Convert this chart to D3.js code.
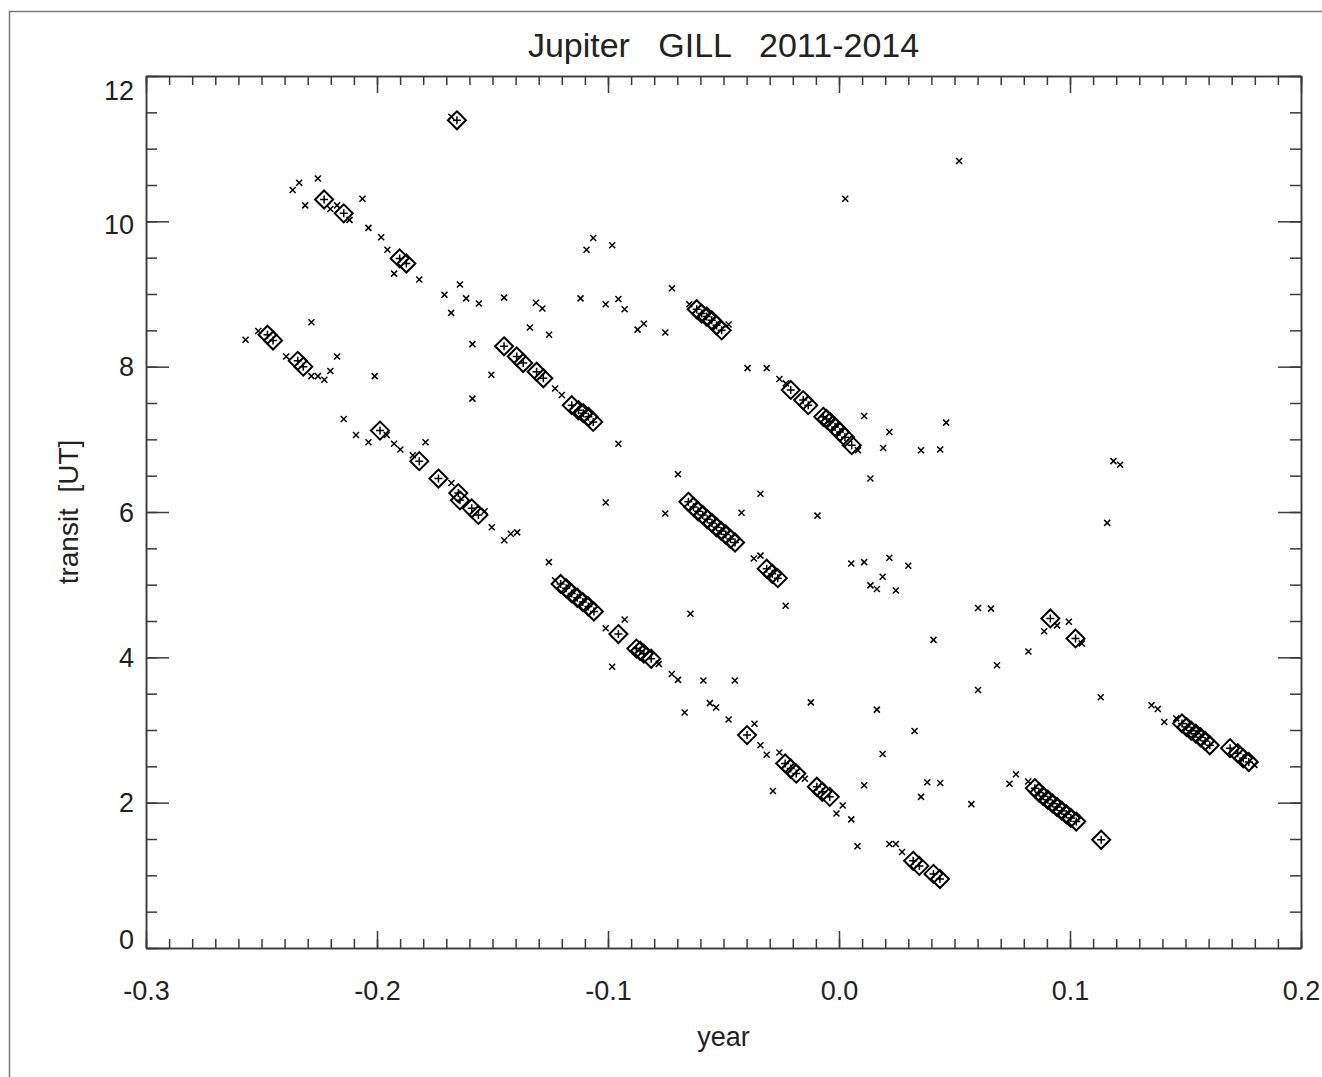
<!DOCTYPE html>
<html><head><meta charset="utf-8">
<script src="https://cdn.jsdelivr.net/npm/d3@7"></script>
<style>body{margin:0;background:#fff} svg{display:block}</style>
</head><body>
<script>
// ---- data (year offset, transit UT) ----
const crossPoints = [
 [-0.1678,11.44],
 [-0.2365,10.43],[-0.2337,10.53],[-0.2256,10.59],[-0.2311,10.22],[-0.2202,10.17],[-0.2173,10.22],[-0.2119,10.02],[-0.2063,10.31],
 [-0.2037,9.91],[-0.1982,9.78],[-0.1955,9.61],[-0.1926,9.28],[-0.1817,9.20],[-0.1708,8.99],[-0.1641,9.13],[-0.1614,8.94],[-0.1679,8.74],
 [-0.1559,8.87],[-0.1450,8.95],[-0.1312,8.88],[-0.1284,8.80],[-0.1338,8.54],[-0.1255,8.44],[-0.1119,8.94],[-0.1093,9.61],[-0.1064,9.77],
 [-0.0982,9.67],[-0.1010,8.86],[-0.0955,8.93],[-0.0928,8.79],[-0.0723,9.08],[-0.0872,8.51],[-0.0845,8.59],[-0.0752,8.47],[-0.0648,8.86],[-0.0478,8.58],
 [-0.2569,8.37],[-0.2514,8.49],[-0.2284,8.61],[-0.2393,8.14],[-0.2284,7.87],[-0.2256,7.87],[-0.2228,7.82],[-0.2202,7.94],[-0.2173,8.14],
 [-0.2010,7.87],[-0.2144,7.28],[-0.2091,7.06],[-0.2037,6.96],[-0.1958,7.06],[-0.1926,6.94],[-0.1899,6.86],[-0.1845,6.78],[-0.1790,6.96],
 [-0.1678,6.40],[-0.1534,6.01],[-0.1587,8.31],[-0.1505,7.89],[-0.1587,7.56],[-0.1229,7.70],[-0.1200,7.61],[-0.0955,6.94],[-0.0697,6.52],
 [-0.1010,6.13],[-0.0752,5.98],[-0.0396,7.98],[-0.0313,7.98],[-0.0258,7.83],[-0.0230,7.77],[0.0082,6.85],[0.0109,7.32],[0.0218,7.10],
 [0.0191,6.88],[0.0355,6.85],[0.0438,6.86],[0.0464,7.23],[0.0136,6.46],[0.1188,6.70],[0.1217,6.65],[-0.0340,6.25],[-0.0422,5.99],
 [-0.0093,5.95],[0.0520,10.83],[0.0027,10.31],
 [-0.1503,5.79],[-0.1449,5.61],[-0.1421,5.70],[-0.1393,5.72],[-0.1256,5.31],[-0.1229,5.06],[-0.1010,4.40],[-0.0928,4.52],[-0.0982,3.87],
 [-0.0780,3.91],[-0.0724,3.77],[-0.0697,3.69],[-0.0587,3.68],[-0.0559,3.37],[-0.0532,3.31],[-0.0668,3.24],[-0.0643,4.60],
 [-0.0369,5.36],[-0.0340,5.40],[-0.0231,4.71],[0.0053,5.29],[0.0109,5.31],[0.0218,5.37],[0.0300,5.26],[0.0189,5.11],[0.0136,4.99],
 [0.0164,4.94],[0.0246,4.92],[0.0602,4.68],[0.0658,4.67],[0.0409,4.24],[0.0944,4.44],[0.0888,4.36],[0.0995,4.49],[0.1051,4.19],
 [0.0820,4.08],[0.0684,3.89],[0.0602,3.55],[0.1133,3.45],[0.1161,5.85],[0.1353,3.34],[0.1380,3.29],[0.1408,3.11],[0.1460,3.16],[0.1798,2.52],
 [-0.0451,3.68],[-0.0122,3.38],[0.0164,3.28],[0.0327,2.985],[0.0189,2.67],[-0.0478,3.145],[-0.0366,3.085],[-0.0340,2.79],[-0.0313,2.66],
 [-0.0258,2.69],[-0.0148,2.33],[-0.0286,2.16],[0.0016,1.96],[-0.0011,1.85],[0.0053,1.77],[0.0109,2.24],[0.0382,2.28],[0.0438,2.27],
 [0.0355,2.08],[0.0573,1.98],[0.0738,2.26],[0.0766,2.39],[0.0819,2.29],[0.0080,1.40],[0.0218,1.43],[0.0246,1.43],[0.0273,1.32]
];
const diamondPoints = [
 [-0.1654,11.39],
 [-0.2229,10.30],[-0.2144,10.11],[-0.1902,9.49],[-0.1873,9.42],
 [-0.0616,8.79],[-0.0595,8.73],[-0.0573,8.69],[-0.0551,8.64],[-0.0530,8.57],[-0.0508,8.50],
 [-0.2474,8.44],[-0.2450,8.36],[-0.2343,8.08],[-0.2319,8.00],
 [-0.1450,8.28],[-0.1395,8.14],[-0.1367,8.05],[-0.1309,7.93],[-0.1280,7.84],
 [-0.1157,7.47],[-0.1128,7.40],[-0.1107,7.36],[-0.1085,7.31],[-0.1064,7.24],
 [-0.0209,7.68],[-0.0155,7.54],[-0.0133,7.47],[-0.0068,7.31],[-0.0054,7.28],[-0.0039,7.24],[-0.0017,7.17],[0.0004,7.10],[0.0026,7.03],[0.0055,6.92],
 [-0.1987,7.12],[-0.1817,6.70],[-0.1734,6.46],[-0.1648,6.26],[-0.1641,6.16],[-0.1590,6.05],[-0.1561,5.96],
 [-0.0652,6.14],[-0.0630,6.07],[-0.0610,6.01],[-0.0590,5.96],[-0.0570,5.90],[-0.0550,5.85],[-0.0530,5.79],[-0.0510,5.74],[-0.0490,5.69],[-0.0470,5.63],[-0.0450,5.58],
 [-0.0313,5.22],[-0.0289,5.15],[-0.0265,5.09],
 [-0.1205,5.01],[-0.1181,4.95],[-0.1157,4.88],[-0.1133,4.82],[-0.1109,4.76],[-0.1085,4.70],[-0.1061,4.63],
 [-0.0955,4.32],[-0.0877,4.12],[-0.0861,4.09],[-0.0845,4.05],[-0.0813,3.98],
 [-0.0398,2.93],[-0.0233,2.54],[-0.0209,2.47],[-0.0185,2.40],[-0.0096,2.22],[-0.0072,2.15],[-0.0040,2.08],
 [0.0321,1.20],[0.0348,1.13],[0.0409,1.02],[0.0437,0.95],
 [0.0915,4.535],[0.1024,4.26],
 [0.0848,2.20],[0.0866,2.14],[0.0884,2.09],[0.0904,2.04],[0.0924,1.99],[0.0944,1.94],[0.0964,1.89],[0.0984,1.84],[0.1004,1.79],[0.1027,1.74],
 [0.1135,1.49],
 [0.1485,3.09],[0.1505,3.04],[0.1525,2.99],[0.1545,2.95],[0.1565,2.90],[0.1585,2.85],[0.1605,2.79],
 [0.1693,2.75],[0.1726,2.68],[0.1750,2.61],[0.1774,2.56]
];
const xDomain = [-0.3, 0.2];
const yDomain = [0, 12];
const xMajorTicks = [-0.3,-0.2,-0.1,0.0,0.1,0.2];
const xTickLabels = ["-0.3","-0.2","-0.1","0.0","0.1","0.2"];
const yMajorTicks = [0,2,4,6,8,10,12];
const yTickLabels = ["0","2","4","6","8","10","12"];
const titleText = "Jupiter   GILL   2011-2014";
const xTitle = "year";
const yTitle = "transit  [UT]";

// ---- drawing ----
const W = 1322, H = 1077;
const L = 146, T = 76, R = 1301, B = 948;
const font = "'Liberation Sans', Arial, Helvetica, sans-serif";
const ink = "#222";
const axisCol = "#3a3a3a";

const svg = d3.select("body").append("svg").attr("width", W).attr("height", H)
  .style("font-family", font);

svg.append("rect").attr("x", 9.5).attr("y", 11.5).attr("width", 1330).attr("height", 1090)
  .attr("fill", "#fff").attr("stroke", "#777").attr("stroke-width", 1.5);

const x = d3.scaleLinear().domain(xDomain).range([L, R]);
const y = d3.scaleLinear().domain(yDomain).range([B, T]);

const xMinor = x.ticks(50);
const yMinor = y.ticks(24);

function styleAxis(g) {
  g.selectAll("path,line").attr("stroke", axisCol).attr("stroke-width", 1.5);
  g.selectAll("text").attr("fill", ink).attr("font-size", 27).attr("font-family", font);
}

// minor ticks
svg.append("g").attr("transform", `translate(0,${B})`)
  .call(d3.axisBottom(x).tickValues(xMinor).tickSize(-9).tickSizeOuter(0).tickFormat("")).call(styleAxis);
svg.append("g").attr("transform", `translate(0,${T})`)
  .call(d3.axisTop(x).tickValues(xMinor).tickSize(-9).tickSizeOuter(0).tickFormat("")).call(styleAxis);
svg.append("g").attr("transform", `translate(${L},0)`)
  .call(d3.axisLeft(y).tickValues(yMinor).tickSize(-11).tickSizeOuter(0).tickFormat("")).call(styleAxis);
svg.append("g").attr("transform", `translate(${R},0)`)
  .call(d3.axisRight(y).tickValues(yMinor).tickSize(-11).tickSizeOuter(0).tickFormat("")).call(styleAxis);

// major ticks + labels
svg.append("g").attr("transform", `translate(0,${B})`)
  .call(d3.axisBottom(x).tickValues(xMajorTicks).tickSize(-17).tickSizeOuter(0).tickPadding(33)
    .tickFormat((d,i) => xTickLabels[i])).call(styleAxis);
svg.append("g").attr("transform", `translate(0,${T})`)
  .call(d3.axisTop(x).tickValues(xMajorTicks).tickSize(-17).tickSizeOuter(0).tickFormat("")).call(styleAxis);
const yAx = svg.append("g").attr("transform", `translate(${L},0)`)
  .call(d3.axisLeft(y).tickValues(yMajorTicks).tickSize(-23).tickSizeOuter(0).tickPadding(12)
    .tickFormat((d,i) => yTickLabels[i])).call(styleAxis);
yAx.selectAll(".tick text").attr("dy", d => d === 12 ? "0.88em" : d === 0 ? "0.0em" : d === 10 ? "0.45em" : "0.34em");
svg.append("g").attr("transform", `translate(${R},0)`)
  .call(d3.axisRight(y).tickValues(yMajorTicks).tickSize(-23).tickSizeOuter(0).tickFormat("")).call(styleAxis);

// titles
svg.append("text").attr("x", (L+R)/2).attr("y", 57).attr("text-anchor", "middle")
  .attr("font-size", 34).attr("fill", ink).style("white-space", "pre").text(titleText);
svg.append("text").attr("x", (L+R)/2).attr("y", 1046).attr("text-anchor", "middle")
  .attr("font-size", 27).attr("fill", ink).text(xTitle);
svg.append("text").attr("transform", `translate(78,${(T+B)/2}) rotate(-90)`).attr("text-anchor", "middle")
  .attr("font-size", 28).attr("fill", ink).style("white-space", "pre").text(yTitle);

// marks
const plot = svg.append("g");
const cs = 3;
plot.selectAll("path.cross").data(crossPoints).join("path").attr("class", "cross")
  .attr("d", d => {
    const px = x(d[0]), py = y(d[1]);
    return `M${px-cs},${py-cs}L${px+cs},${py+cs}M${px-cs},${py+cs}L${px+cs},${py-cs}`;
  })
  .attr("stroke", "#000").attr("stroke-width", 1.5).attr("fill", "none");

const ds = 9, ps = 4;
plot.selectAll("path.diamond").data(diamondPoints).join("path").attr("class", "diamond")
  .attr("d", d => {
    const px = x(d[0]), py = y(d[1]);
    return `M${px},${py-ds}L${px+ds},${py}L${px},${py+ds}L${px-ds},${py}Z`;
  })
  .attr("stroke", "#000").attr("stroke-width", 2).attr("fill", "none");
plot.selectAll("path.plus").data(diamondPoints).join("path").attr("class", "plus")
  .attr("d", d => {
    const px = x(d[0]), py = y(d[1]);
    return `M${px-ps},${py}L${px+ps},${py}M${px},${py-ps}L${px},${py+ps}`;
  })
  .attr("stroke", "#000").attr("stroke-width", 1.5).attr("fill", "none");
</script>
</body></html>
